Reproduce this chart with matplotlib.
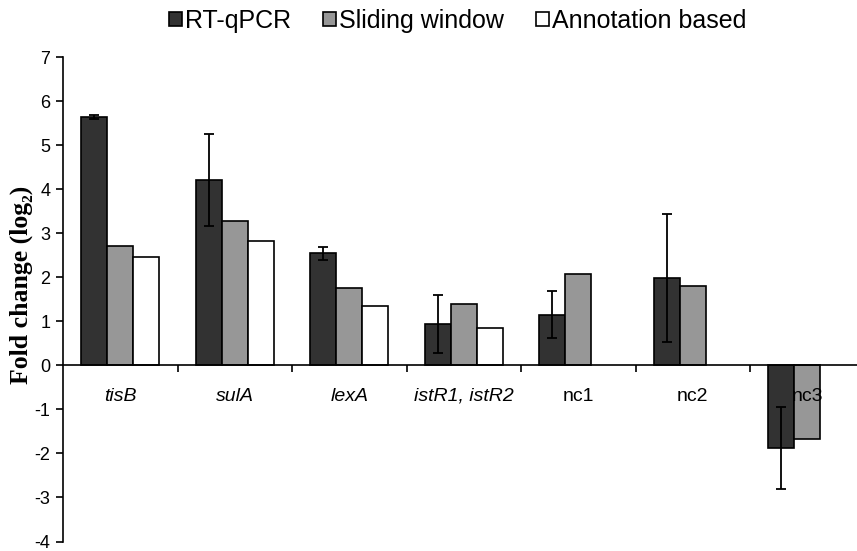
import numpy as np
import matplotlib
matplotlib.use("Agg")
import matplotlib.pyplot as plt

plt.rcParams['font.family'] = ['Liberation Sans', 'DejaVu Sans']
plt.rcParams['axes.unicode_minus'] = False

categories = ["tisB", "sulA", "lexA", "istR1, istR2", "nc1", "nc2", "nc3"]
italic = [True, True, True, True, False, False, False]
rt_qpcr = [5.64, 4.21, 2.54, 0.94, 1.15, 1.98, -1.87]
rt_qpcr_err = [0.05, 1.05, 0.14, 0.66, 0.53, 1.45, 0.93]
sliding = [2.72, 3.28, 1.75, 1.40, 2.07, 1.80, -1.68]
annotation = [2.46, 2.82, 1.35, 0.84, np.nan, np.nan, np.nan]
series_names = ["RT-qPCR", "Sliding window", "Annotation based"]
yticks = [-4, -3, -2, -1, 0, 1, 2, 3, 4, 5, 6, 7]

fig = plt.figure(figsize=(8.57, 5.51), dpi=100)
ax = fig.add_axes([63/857, 9.5/551, 801.5/857, 484.5/551])
ax.set_axisbelow(False)

x = np.arange(len(categories))
w = 0.227
ax.bar(x - w, rt_qpcr, w, color="#323232", edgecolor="black", linewidth=1.2,
       yerr=rt_qpcr_err, error_kw=dict(ecolor="black", elinewidth=1.3, capsize=3.5, capthick=1.3),
       label=series_names[0], zorder=1)
ax.bar(x, sliding, w, color="#979797", edgecolor="black", linewidth=1.2,
       label=series_names[1], zorder=1)
ax.bar(x + w, annotation, w, color="white", edgecolor="black", linewidth=1.2,
       label=series_names[2], zorder=1)

ax.set_xlim(-0.5, len(categories) - 0.5)
ax.set_ylim(-4, 7)
ax.set_yticks(yticks)
ax.set_yticklabels([str(t) for t in yticks], fontsize=13)

ax.spines['top'].set_visible(False)
ax.spines['right'].set_visible(False)
ax.spines['bottom'].set_position(('data', 0))
ax.spines['left'].set_linewidth(1.2)
ax.spines['bottom'].set_linewidth(1.2)

ax.set_xticks(np.arange(len(categories)) + 0.5)
ax.set_xticklabels([])
ax.tick_params(axis='x', which='major', direction='out', length=5, width=1.2)
ax.set_xticks(x, minor=True)
ax.set_xticklabels(categories, minor=True, fontsize=14)
for lab, it in zip(ax.get_xticklabels(minor=True), italic):
    if it:
        lab.set_fontstyle('italic')
ax.tick_params(axis='x', which='minor', length=0, pad=16)
ax.tick_params(axis='y', direction='out', length=5, width=1.2, pad=4)

ax.set_ylabel("Fold change (log\u2082)", fontsize=18.5, fontweight='bold',
              family=['Liberation Serif', 'DejaVu Serif'])
ax.yaxis.set_label_coords(-0.037, 0.529)

fig.legend(loc='center', bbox_to_anchor=(0.534, 1 - 21/551), ncol=3, frameon=False,
           fontsize=18, handlelength=0.52, handleheight=0.45, handletextpad=0.15,
           columnspacing=1.25, borderpad=0)

fig.savefig("out.png", dpi=100)
